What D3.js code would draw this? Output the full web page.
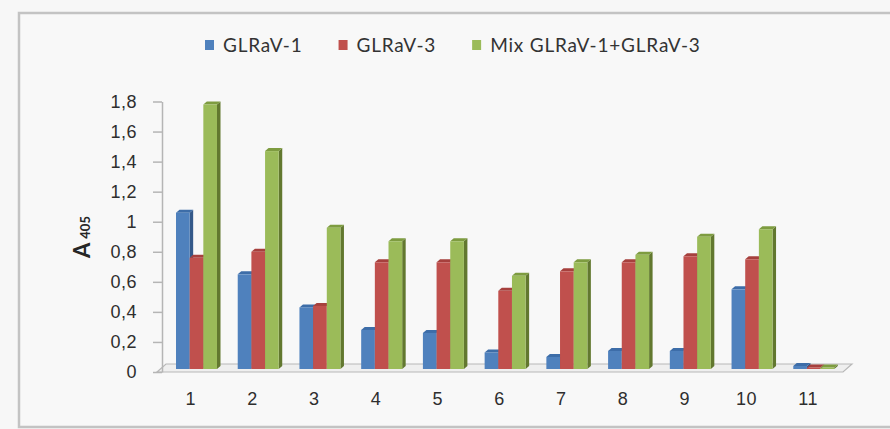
<!DOCTYPE html>
<html>
<head>
<meta charset="utf-8">
<script src="https://cdn.jsdelivr.net/npm/d3@7"></script>
<style>
  body { margin: 0; background: #f7f7f7; }
  svg { display: block; font-family: Lato, "Open Sans", sans-serif; }
</style>
</head>
<body>
<div id="chart"></div>
<script>
// Data
const categories = ["1", "2", "3", "4", "5", "6", "7", "8", "9", "10", "11"];
const seriesNames = ["GLRaV-1", "GLRaV-3", "Mix GLRaV-1+GLRaV-3"];
const glrav1 = [1.06, 0.65, 0.43, 0.28, 0.26, 0.13, 0.10, 0.14, 0.14, 0.55, 0.04];
const glrav3 = [0.76, 0.80, 0.44, 0.73, 0.73, 0.54, 0.67, 0.73, 0.77, 0.75, 0.03];
const mix = [1.78, 1.47, 0.96, 0.87, 0.87, 0.64, 0.73, 0.78, 0.90, 0.95, 0.03];
const yTicks = [0, 0.2, 0.4, 0.6, 0.8, 1, 1.2, 1.4, 1.6, 1.8];

const series = [glrav1, glrav3, mix];
const frontColors = ["#4f81bd", "#c0504d", "#9bbb59"];
const sideColors = ["#34598a", "#8b3532", "#62782f"];
const topColors = ["#3d6da8", "#a6403d", "#7e9c40"];

const width = 890, height = 429;
const depth = { dx: 3.5, dy: 3 };

const svg = d3.select("#chart")
    .append("svg")
    .attr("width", width)
    .attr("height", height);

// Outer frame
svg.append("rect")
    .attr("x", 19).attr("y", 13)
    .attr("width", 900).attr("height", 414)
    .attr("fill", "#f8f8f8")
    .attr("stroke", "#c3c3c3")
    .attr("stroke-width", 2.5);

// Scales
const x = d3.scaleBand().domain(categories).range([160, 839]);
const xInner = d3.scaleBand().domain(d3.range(series.length)).range([16, 57]);
const y = d3.scaleLinear().domain([0, 1.8]).range([372, 101.5]);

// Floor
const y0 = y(0);
svg.append("polygon")
    .attr("points", [[157, y0], [843, y0], [852, y0 - 8], [166, y0 - 8]].map(p => p.join(",")).join(" "))
    .attr("fill", "#efefef")
    .attr("stroke", "#b8b8b8")
    .attr("stroke-width", 1.2);

// Y axis
const yAxis = d3.axisLeft(y)
    .tickValues(yTicks)
    .tickSize(9)
    .tickSizeOuter(0)
    .tickPadding(16)
    .tickFormat(d => String(+d.toFixed(1)).replace(".", ","));

const gy = svg.append("g")
    .attr("class", "y-axis")
    .attr("transform", "translate(162,0)")
    .call(yAxis);
gy.select(".domain").attr("stroke", "#b5b5b5").attr("stroke-width", 1.5);
gy.selectAll(".tick line").attr("stroke", "#b5b5b5").attr("stroke-width", 1.5);
gy.selectAll(".tick text")
    .attr("fill", "#2e2e2e")
    .style("font-size", "18px")
    .style("letter-spacing", "0.5px");

// X axis labels
const xAxis = d3.axisBottom(x).tickSize(0).tickPadding(20);
const gx = svg.append("g")
    .attr("class", "x-axis")
    .attr("transform", `translate(0,${y0})`)
    .call(xAxis);
gx.select(".domain").remove();
gx.selectAll(".tick text")
    .attr("fill", "#2e2e2e")
    .style("font-size", "18px")
    .style("letter-spacing", "0.5px");

// Bars (3D look: side, top, front)
const barBottom = y0 - 3;
const w = xInner.bandwidth();
categories.forEach((c, i) => {
    const g = svg.append("g").attr("class", "group");
    series.forEach((vals, s) => {
        const bx = x(c) + xInner(s);
        const by = y(vals[i]);
        g.append("polygon")
            .attr("points", [[bx + w, by], [bx + w + depth.dx, by - depth.dy], [bx + w + depth.dx, barBottom - depth.dy], [bx + w, barBottom]].map(p => p.join(",")).join(" "))
            .attr("fill", sideColors[s]);
        g.append("polygon")
            .attr("points", [[bx, by], [bx + depth.dx, by - depth.dy], [bx + w + depth.dx, by - depth.dy], [bx + w, by]].map(p => p.join(",")).join(" "))
            .attr("fill", topColors[s]);
        g.append("rect")
            .attr("x", bx).attr("y", by)
            .attr("width", w).attr("height", Math.max(0, barBottom - by))
            .attr("fill", frontColors[s]);
    });
});

// Y axis title: A 405
const title = svg.append("text")
    .attr("transform", "translate(90,237) rotate(-90)")
    .attr("text-anchor", "middle")
    .attr("fill", "#262626")
    .style("font-weight", "bold");
title.append("tspan").style("font-size", "22px").text("A");
title.append("tspan").attr("dx", 4).style("font-size", "13px").text("405");

// Legend
const legend = svg.append("g").attr("class", "legend");
let lx = 205;
seriesNames.forEach((name, s) => {
    legend.append("rect")
        .attr("x", lx).attr("y", 40)
        .attr("width", 9).attr("height", 10)
        .attr("fill", frontColors[s]);
    const t = legend.append("text")
        .attr("x", lx + 18).attr("y", 45)
        .attr("dy", "0.35em")
        .attr("fill", "#333")
        .style("font-size", "19px")
        .style("letter-spacing", "0.8px")
        .text(name);
    lx += 18 + t.node().getComputedTextLength() + 36;
});
</script>
</body>
</html>
